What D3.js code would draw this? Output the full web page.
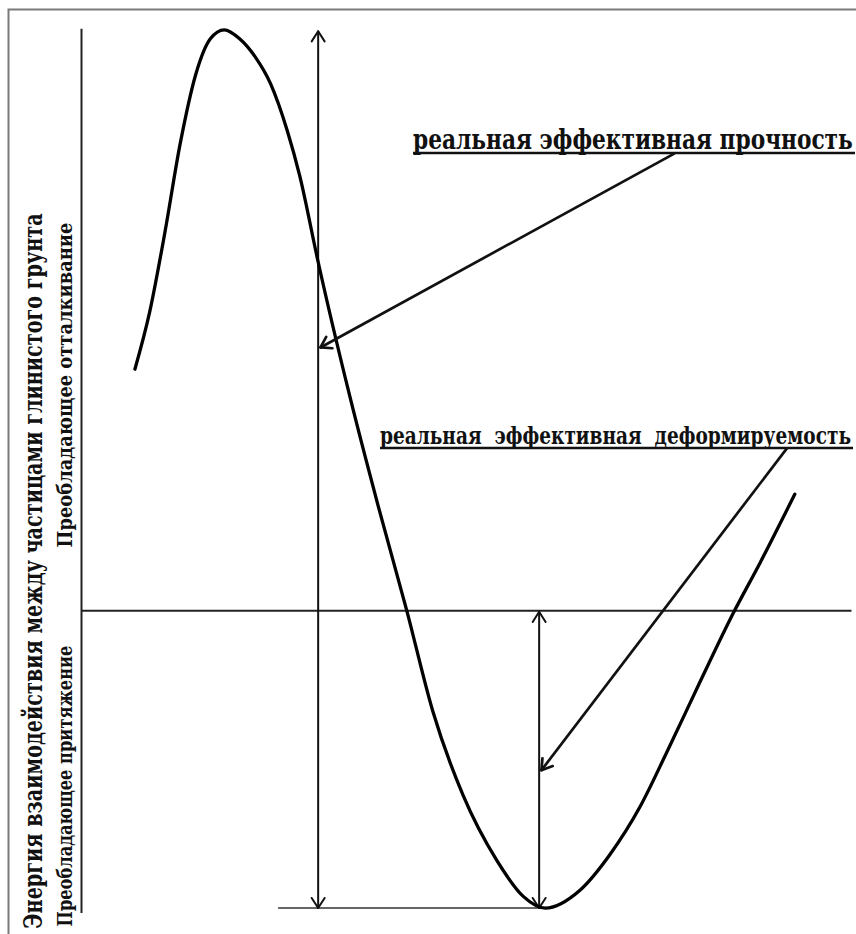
<!DOCTYPE html>
<html>
<head>
<meta charset="utf-8">
<script src="https://cdn.jsdelivr.net/npm/d3@7"></script>
<style>
  body { margin: 0; background: #fff; }
</style>
</head>
<body>
<div id="chart"></div>
<script>
// Curve of interaction energy vs. distance
var distance = [7, 8.9, 10.9, 12.9, 14.9, 16.8, 18.6, 20.6, 22.6, 24.6, 26.8, 28.4, 30.8, 34.9, 38.6, 42.3,
                45.7, 49.6, 54, 57.4, 60.3, 64.8, 68.7, 72.6, 76.2, 80.4, 84.7, 88.2, 92.7];
var energy   = [81, 100, 127, 157, 180, 192, 195, 192, 186, 177, 161, 146, 117, 72, 35, 0,
                -34, -62, -84, -96, -100, -94, -82, -66, -47, -24, -1, 16, 39];

// [x, yTop, yBottom] of the two double arrows
var strengthSpan = [30.8, 194.5, -100];
var deformSpan   = [59.5, -0.5, -100];
// baseline under the minimum: [xStart, xEnd, y]
var minLine = [25.6, 60.3, -100];

// pointer arrows: [xFrom, yFrom, xTo, yTo]
var strengthPointer = [77.1, 153.5, 31.1, 88.3];
var deformPointer   = [91.7, 54.5, 59.8, -53.7];

var labels = ["реальная эффективная прочность", "реальная  эффективная  деформируемость"];
var yTitle = "Энергия взаимодействия между частицами глинистого грунта";
var zoneLabels = ["Преобладающее отталкивание", "Преобладающее притяжение"];

var width = 856, height = 934;
// Liberation Serif here has no Cyrillic, so DejaVu Serif is used
var serif = "'DejaVu Serif Condensed', 'DejaVu Serif', serif";

var xScale = d3.scaleLinear().domain([0, 100]).range([81, 851]);
var yScale = d3.scaleLinear().domain([-101.5, 195.5]).range([912.5, 28.3]);

var svg = d3.select("#chart")
  .append("svg")
  .attr("width", width)
  .attr("height", height);

// frame of the scanned figure
svg.append("rect")
  .attr("x", 8.5).attr("y", 9.5)
  .attr("width", 900).attr("height", 1000)
  .attr("fill", "none")
  .attr("stroke", "#7a7a7a")
  .attr("stroke-width", 2);

// axes without ticks
var yAxis = d3.axisLeft(yScale).tickValues([]).tickSizeOuter(0);
var xAxis = d3.axisBottom(xScale).tickValues([]).tickSizeOuter(0);

svg.append("g")
  .attr("class", "y axis")
  .attr("transform", "translate(" + xScale(0) + ",0)")
  .call(yAxis);

svg.append("g")
  .attr("class", "x axis")
  .attr("transform", "translate(0," + yScale(0) + ")")
  .call(xAxis);

svg.selectAll(".axis path")
  .attr("stroke", "#222")
  .attr("stroke-width", 2);

// horizontal line through the minimum
svg.append("line")
  .attr("x1", xScale(minLine[0])).attr("x2", xScale(minLine[1]))
  .attr("y1", yScale(minLine[2])).attr("y2", yScale(minLine[2]))
  .attr("stroke", "#666")
  .attr("stroke-width", 2);

// open chevron at point b, coming from a
var chevron = function(a, b, w) {
  var ang = Math.atan2(b[1] - a[1], b[0] - a[0]),
      len = 12, spread = 0.57;
  [-spread, spread].forEach(function(s) {
    svg.append("line")
      .attr("x1", b[0]).attr("y1", b[1])
      .attr("x2", b[0] - len * Math.cos(ang + s))
      .attr("y2", b[1] - len * Math.sin(ang + s))
      .attr("stroke", "#111")
      .attr("stroke-width", w)
      .attr("stroke-linecap", "round");
  });
};

var arrow = function(a, b, both, w) {
  svg.append("line")
    .attr("x1", a[0]).attr("y1", a[1])
    .attr("x2", b[0]).attr("y2", b[1])
    .attr("stroke", "#111")
    .attr("stroke-width", w);
  chevron(a, b, w);
  if (both) chevron(b, a, w);
};

[strengthSpan, deformSpan].forEach(function(s) {
  arrow([xScale(s[0]), yScale(s[2])], [xScale(s[0]), yScale(s[1])], true, 2);
});

// the energy curve
var line = d3.line()
  .x(function(d) { return xScale(d[0]); })
  .y(function(d) { return yScale(d[1]); })
  .curve(d3.curveMonotoneX);

svg.append("path")
  .datum(d3.zip(distance, energy))
  .attr("d", line)
  .attr("fill", "none")
  .attr("stroke", "#000")
  .attr("stroke-width", 3.3)
  .attr("stroke-linecap", "round");

[strengthPointer, deformPointer].forEach(function(p) {
  arrow([xScale(p[0]), yScale(p[1])], [xScale(p[2]), yScale(p[3])], false, 2.7);
});

// text squeezed along its own direction to a given length
var fittedText = function(t, pos, rot, anchor, size, len) {
  var el = svg.append("text")
    .attr("text-anchor", anchor)
    .attr("font-family", serif)
    .attr("font-weight", "bold")
    .attr("fill", "#111")
    .attr("font-size", size)
    .style("white-space", "pre")
    .text(t);
  var k = len / el.node().getComputedTextLength();
  el.attr("transform", "translate(" + pos[0] + "," + pos[1] + ") rotate(" + rot + ") scale(" + k + ",1)");
  return el;
};

// underlined labels
var labelPos = [ { x: 413, y: 149, size: 27, len: 440 },
                 { x: 380, y: 444, size: 24, len: 471 } ];

labels.forEach(function(t, i) {
  var p = labelPos[i];
  fittedText(t, [p.x, p.y], 0, "start", p.size, p.len);
  svg.append("line")
    .attr("x1", p.x).attr("x2", p.x + p.len + 2)
    .attr("y1", p.y + 4).attr("y2", p.y + 4)
    .attr("stroke", "#111")
    .attr("stroke-width", 2.5);
});

// rotated titles on the left
fittedText(yTitle, [42, 571], -90, "middle", 26, 716);
fittedText(zoneLabels[0], [72, 385], -90, "middle", 20, 325);
fittedText(zoneLabels[1], [72, 786], -90, "middle", 20, 281);
</script>
</body>
</html>
